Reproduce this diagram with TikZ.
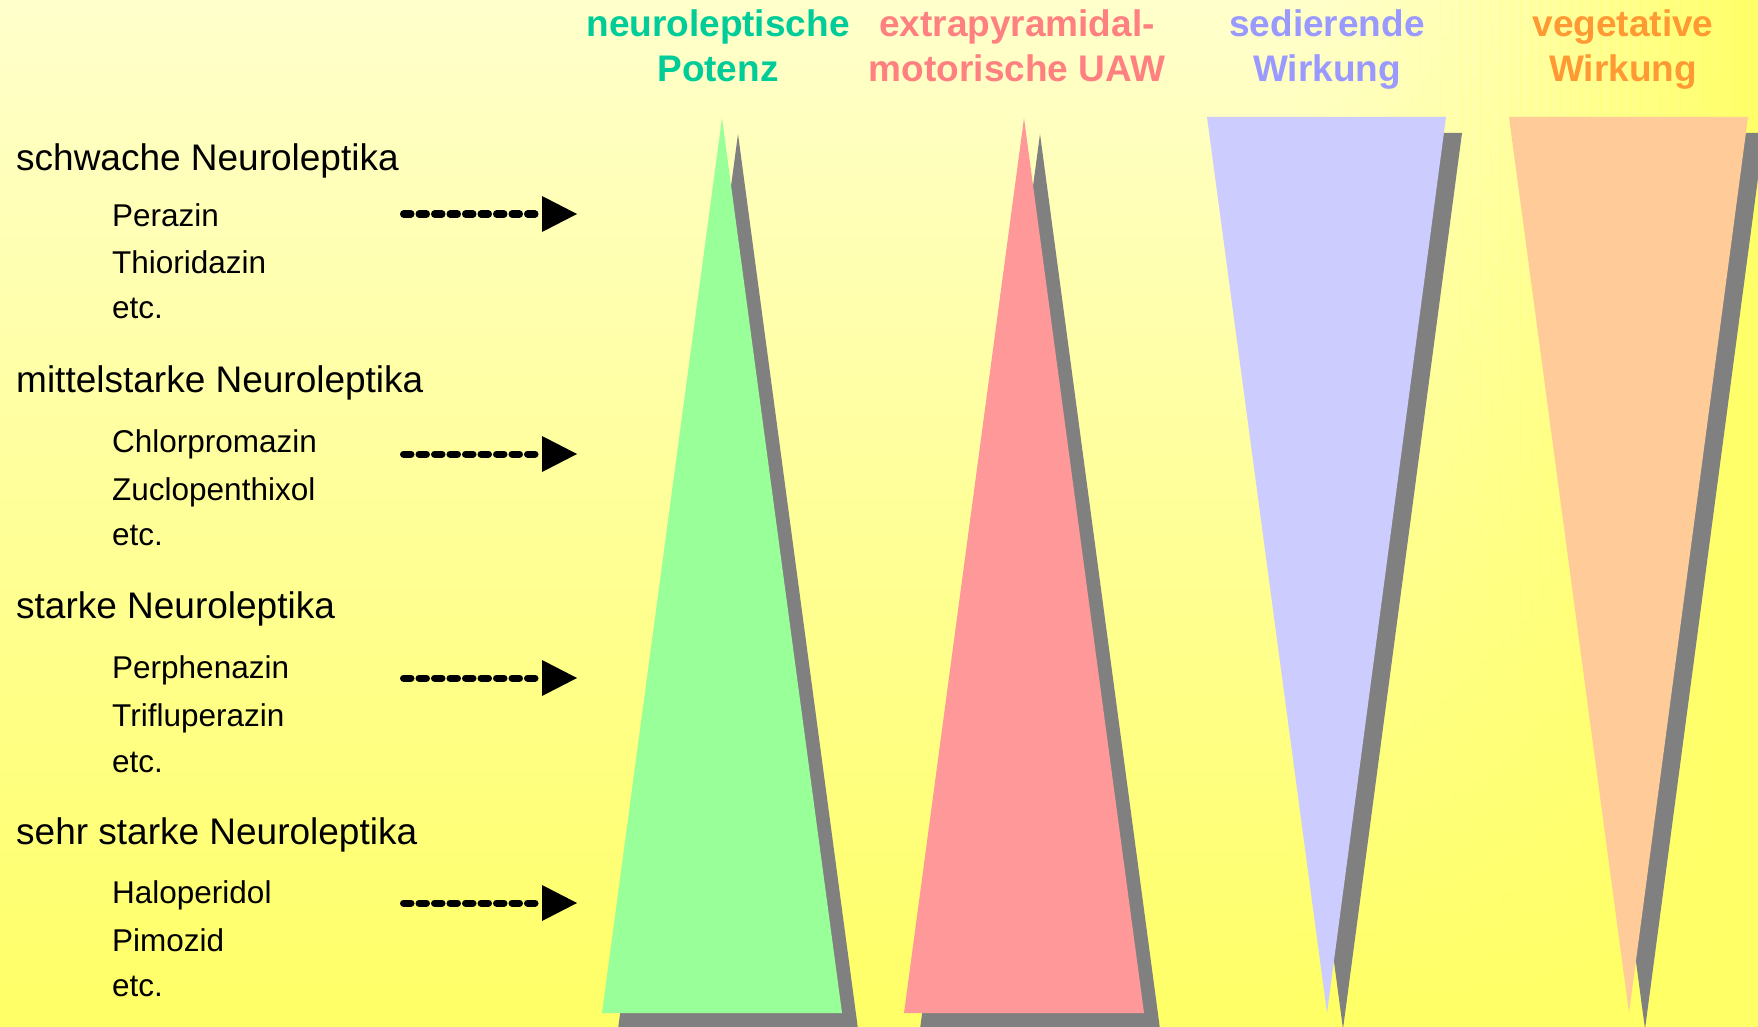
\documentclass[tikz,border=0pt]{standalone}
\usepackage{fontspec}
\setmainfont{Liberation Sans}
\usetikzlibrary{arrows.meta}
\definecolor{bgpale}{HTML}{FFFFCC}
\definecolor{bgyel}{HTML}{FFFF66}
\definecolor{shadowc}{HTML}{808080}
\definecolor{greenf}{HTML}{99FF99}
\definecolor{pinkf}{HTML}{FF9999}
\definecolor{lavf}{HTML}{CCCCFF}
\definecolor{peachf}{HTML}{FFCC99}
\definecolor{greent}{HTML}{00CC99}
\definecolor{pinkt}{HTML}{FF8080}
\definecolor{lavt}{HTML}{9999FF}
\definecolor{peacht}{HTML}{FF9933}
\tikzset{
  hdr/.style={anchor=base, inner sep=0pt, font=\fontsize{37}{44}\selectfont\bfseries},
  grp/.style={anchor=base west, inner sep=0pt, font=\fontsize{37}{44}\selectfont},
  itm/.style={anchor=base west, inner sep=0pt, font=\fontsize{31.5}{38}\selectfont},
  darrow/.style={line width=7pt, line cap=round, dash pattern=on 7.5pt off 8pt,
    -{Triangle[length=35pt,width=36pt,line width=0pt]}},
  shad/.style={fill=shadowc},
}
\begin{document}
\begin{tikzpicture}[x=1pt,y=-1pt]
\useasboundingbox (0,0) rectangle (1758,1027);
\clip (0,0) rectangle (1758,1027);
% background
\shade[top color=bgpale, bottom color=bgyel] (0,0) rectangle (1758,1027);
\foreach \i in {0,...,47} {
  \pgfmathsetmacro{\op}{((\i+0.5)/48)^1.5}
  \fill[bgyel, opacity=\op] ({1280+\i*10},0) rectangle ({1290.5+\i*10},1027);
}
% triangles
\fill[shad] (738,134) -- (618,1029) -- (858,1029) -- cycle;
\fill[greenf] (722,118) -- (602,1013) -- (842,1013) -- cycle;
\fill[shad] (1040,134) -- (920,1029) -- (1160,1029) -- cycle;
\fill[pinkf] (1024,118) -- (904,1013) -- (1144,1013) -- cycle;
\fill[shad] (1223,133) -- (1462,133) -- (1343,1029) -- cycle;
\fill[lavf] (1207,117) -- (1446,117) -- (1327,1013) -- cycle;
\fill[shad] (1525,133) -- (1764,133) -- (1645,1029) -- cycle;
\fill[peachf] (1509,117) -- (1748,117) -- (1629,1013) -- cycle;
% headers
\node[hdr, text=greent] (h1a) at (718,37) {neuroleptische};
\node[hdr, text=greent] (h1b) at (718,82) {Potenz};
\node[hdr, text=pinkt] (h2a) at (1017,37) {extrapyramidal-};
\node[hdr, text=pinkt] (h2b) at (1017,82) {motorische UAW};
\node[hdr, text=lavt] (h3a) at (1327,37) {sedierende};
\node[hdr, text=lavt] (h3b) at (1327,82) {Wirkung};
\node[hdr, text=peacht] (h4a) at (1623,37) {vegetative};
\node[hdr, text=peacht] (h4b) at (1623,82) {Wirkung};
% groups
\node[grp] (g1h) at (16,171) {schwache Neuroleptika};
\node[itm] (g1a) at (112,226) {Perazin};
\node[itm] (g1b) at (112,273) {Thioridazin};
\node[itm] (g1c) at (112,318) {etc.};
\node[grp] (g2h) at (16,392) {mittelstarke Neuroleptika};
\node[itm] (g2a) at (112,452) {Chlorpromazin};
\node[itm] (g2b) at (112,500) {Zuclopenthixol};
\node[itm] (g2c) at (112,545) {etc.};
\node[grp] (g3h) at (16,618) {starke Neuroleptika};
\node[itm] (g3a) at (112,678) {Perphenazin};
\node[itm] (g3b) at (112,726) {Trifluperazin};
\node[itm] (g3c) at (112,772) {etc.};
\node[grp] (g4h) at (16,844) {sehr starke Neuroleptika};
\node[itm] (g4a) at (112,903) {Haloperidol};
\node[itm] (g4b) at (112,951) {Pimozid};
\node[itm] (g4c) at (112,996) {etc.};
% arrows
\coordinate (a1s) at (403.5,214); \coordinate (a1e) at (577,214);
\coordinate (a2s) at (403.5,454); \coordinate (a2e) at (577,454);
\coordinate (a3s) at (403.5,678); \coordinate (a3e) at (577,678);
\coordinate (a4s) at (403.5,903); \coordinate (a4e) at (577,903);
\draw[darrow] (a1s) -- (a1e);
\draw[darrow] (a2s) -- (a2e);
\draw[darrow] (a3s) -- (a3e);
\draw[darrow] (a4s) -- (a4e);
\end{tikzpicture}
\end{document}
